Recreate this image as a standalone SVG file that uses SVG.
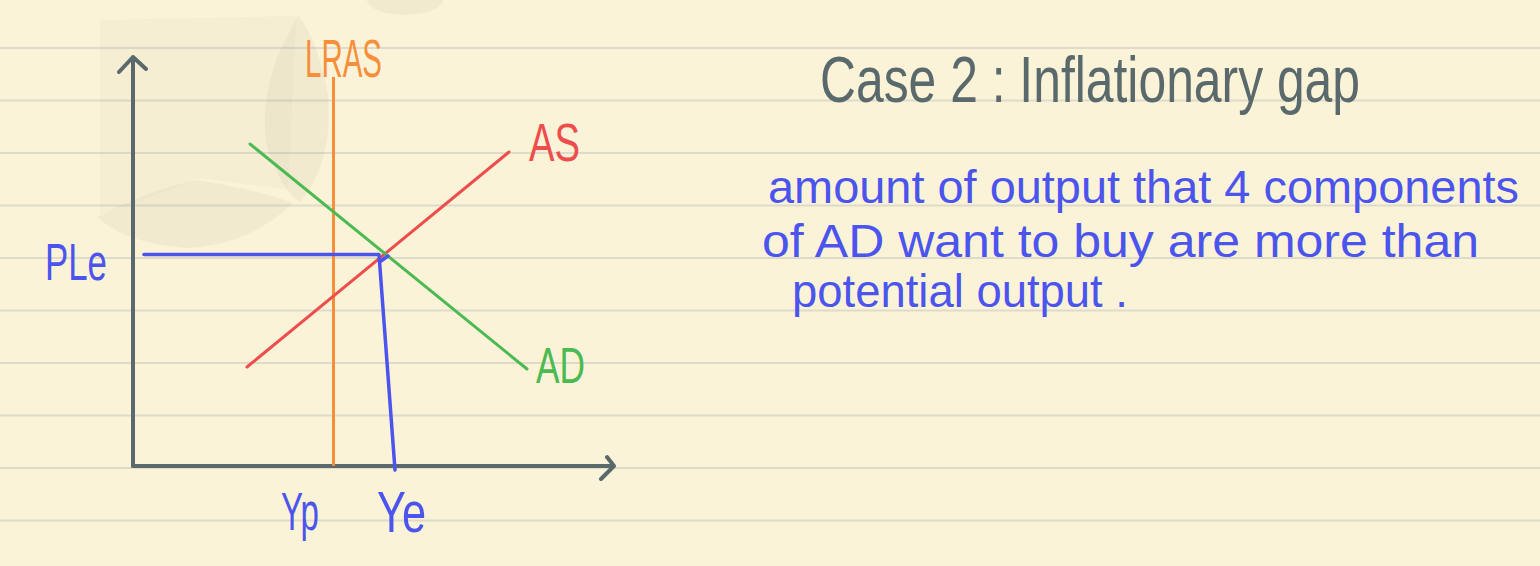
<svg xmlns="http://www.w3.org/2000/svg" width="1540" height="566" viewBox="0 0 1540 566">
<style>
.rule{stroke:#dedbcb;stroke-width:2}
.axis{stroke:#5a6a6c;stroke-width:4;fill:none;stroke-linecap:round;stroke-linejoin:round}
.hand{font-family:"Liberation Sans Narrow","Liberation Sans",sans-serif}
.blue{fill:#4b55ee}
.bl{stroke:#4b55ee;stroke-width:3.5;fill:none;stroke-linecap:round;stroke-linejoin:round}
</style>
<rect width="1540" height="566" fill="#fbf3d7"/>
<g id="paper-rules">
<line class="rule" x1="0" y1="48" x2="1540" y2="48"/>
<line class="rule" x1="0" y1="100.5" x2="1540" y2="100.5"/>
<line class="rule" x1="0" y1="153" x2="1540" y2="153"/>
<line class="rule" x1="0" y1="205.5" x2="1540" y2="205.5"/>
<line class="rule" x1="0" y1="258" x2="1540" y2="258"/>
<line class="rule" x1="0" y1="310.5" x2="1540" y2="310.5"/>
<line class="rule" x1="0" y1="363" x2="1540" y2="363"/>
<line class="rule" x1="0" y1="415.5" x2="1540" y2="415.5"/>
<line class="rule" x1="0" y1="468" x2="1540" y2="468"/>
<line class="rule" x1="0" y1="520.5" x2="1540" y2="520.5"/>
</g>
<g id="watermark" fill="#6b6b55">
<path opacity="0.03" d="M100,20 L296,16 L288,190 L200,178 L100,215 Z"/>
<path opacity="0.06" d="M298,15 Q318,40 328,95 Q334,160 300,203 Q282,190 268,150 Q258,110 278,55 Z"/>
<path opacity="0.06" d="M97,217 Q150,190 197,180 Q250,188 293,203 Q250,245 185,248 Q125,243 97,217 Z"/>
<ellipse opacity="0.06" cx="405" cy="0" rx="38" ry="15"/>
</g>
<g id="axes">
<path class="axis" d="M133,466 L133,57 M119,72 L133,57 L146,69"/>
<path class="axis" d="M133,466 L614,466 M607,457 L614,466 L601,479"/>
</g>
<g id="curves">
<line id="lras-line" x1="333.5" y1="77" x2="333.5" y2="466" stroke="#f68f3c" stroke-width="3"/>
<line id="as-line" x1="247" y1="367" x2="509" y2="152" stroke="#ee4d4d" stroke-width="3" stroke-linecap="round"/>
<line id="ad-line" x1="250" y1="144" x2="527" y2="369" stroke="#4cba53" stroke-width="3" stroke-linecap="round"/>
</g>
<g id="connectors">
<path class="bl" d="M144,254.5 L379,254.5 L395,470"/>
<path class="bl" d="M381,261 L388,256"/>
</g>
<g id="label-lras"><text class="hand" x="305" y="77" font-size="54" fill="#f68f3c" textLength="77" lengthAdjust="spacingAndGlyphs">LRAS</text></g>
<g id="label-as"><text class="hand" x="529" y="161" font-size="54" fill="#ee4d4d" textLength="51" lengthAdjust="spacingAndGlyphs">AS</text></g>
<g id="label-ad"><text class="hand" x="536" y="383" font-size="50" fill="#4cba53" textLength="49" lengthAdjust="spacingAndGlyphs">AD</text></g>
<g id="label-ple"><text class="hand blue" x="45" y="280" font-size="52" textLength="62" lengthAdjust="spacingAndGlyphs">PLe</text></g>
<g id="label-yp"><text class="hand blue" x="281" y="530" font-size="54" textLength="38" lengthAdjust="spacingAndGlyphs">Yp</text></g>
<g id="label-ye"><text class="hand blue" x="377" y="532" font-size="58" textLength="49" lengthAdjust="spacingAndGlyphs">Ye</text></g>
<g id="title"><text class="hand" x="820" y="102" font-size="64" fill="#5a6a6c" textLength="540" lengthAdjust="spacingAndGlyphs">Case 2 : Inflationary gap</text></g>
<g id="definition" class="hand blue" font-size="46">
<text x="768" y="203" textLength="751" lengthAdjust="spacingAndGlyphs">amount of output that 4 components</text>
<text x="762" y="257" textLength="717" lengthAdjust="spacingAndGlyphs">of AD want to  buy are more than</text>
<text x="792" y="307" textLength="336" lengthAdjust="spacingAndGlyphs">potential output .</text>
</g>
</svg>
